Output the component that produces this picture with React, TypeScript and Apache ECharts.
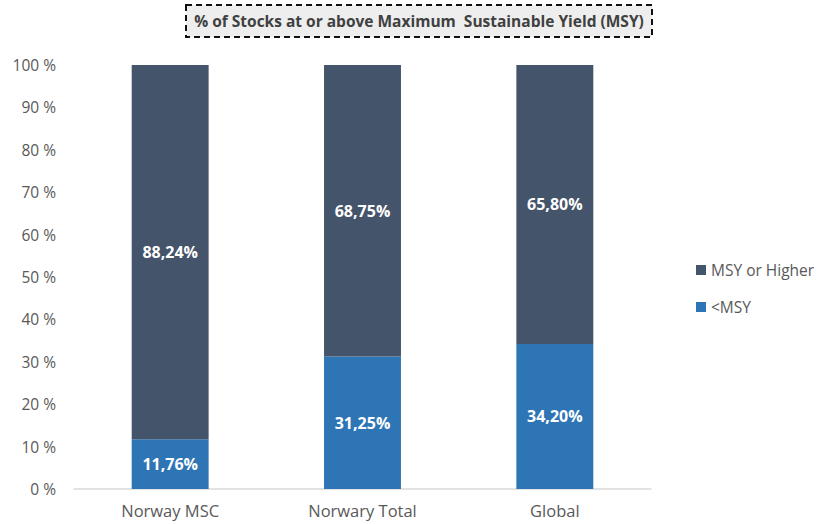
import React, { useEffect, useRef } from "react";
import * as echarts from "echarts";

const categories = ["Norway MSC", "Norwary Total", "Global"];
const belowMSY = [11.76, 31.25, 34.2];
const msyOrHigher = [88.24, 68.75, 65.8];
const titleText = "% of Stocks at or above Maximum  Sustainable Yield (MSY)";

const fmt = (v: number) => v.toFixed(2).replace(".", ",") + "%";
const FONT = "'Open Sans', 'Liberation Sans', sans-serif";

export default function App() {
  const ref = useRef<HTMLDivElement>(null);
  useEffect(() => {
    if (!ref.current) return;
    const chart = echarts.init(ref.current, null, { renderer: "svg" });
    chart.setOption({
      animation: false,
      textStyle: { fontFamily: FONT },
      grid: { left: 74, right: 166, top: 65, bottom: 35, containLabel: false },
      graphic: [
        {
          type: "rect",
          shape: { x: 186, y: 5, width: 466, height: 32 },
          style: { fill: "#eeeeee", stroke: "#111111", lineWidth: 2, lineDash: [6, 4] },
        },
        {
          type: "text",
          x: 419,
          y: 21,
          style: {
            text: titleText,
            fill: "#404040",
            font: `bold 15.5px ${FONT}`,
            textAlign: "center",
            textVerticalAlign: "middle",
          },
        },
      ],
      legend: {
        data: ["MSY or Higher", "<MSY"],
        orient: "vertical",
        left: 691,
        top: 257,
        itemWidth: 10,
        itemHeight: 10,
        itemGap: 21,
        icon: "rect",
        textStyle: { color: "#595959", fontSize: 15.5, fontFamily: FONT },
      },
      xAxis: {
        type: "category",
        data: categories,
        axisLine: { lineStyle: { color: "#d9d9d9", width: 1.5 } },
        axisTick: { show: false },
        axisLabel: { color: "#595959", fontSize: 16.5, margin: 13, fontFamily: FONT },
      },
      yAxis: {
        type: "value",
        min: 0,
        max: 100,
        interval: 10,
        splitLine: { show: false },
        axisLine: { show: false },
        axisTick: { show: false },
        axisLabel: {
          color: "#595959",
          fontSize: 15.5,
          margin: 18,
          fontFamily: FONT,
          formatter: (v: number) => `${v} %`,
        },
      },
      series: [
        {
          name: "<MSY",
          type: "bar",
          stack: "total",
          data: belowMSY,
          barWidth: "40%",
          itemStyle: { color: "#2e75b6" },
          label: {
            show: true,
            color: "#ffffff",
            fontWeight: "bold",
            fontSize: 16,
            fontFamily: FONT,
            formatter: (p: any) => fmt(p.value),
          },
        },
        {
          name: "MSY or Higher",
          type: "bar",
          stack: "total",
          data: msyOrHigher,
          barWidth: "40%",
          itemStyle: { color: "#44546a" },
          label: {
            show: true,
            color: "#ffffff",
            fontWeight: "bold",
            fontSize: 16,
            fontFamily: FONT,
            formatter: (p: any) => fmt(p.value),
          },
        },
      ],
    });
    return () => chart.dispose();
  }, []);
  return (
    <div
      ref={ref}
      style={{ position: "fixed", left: 0, top: 0, width: 817, height: 524, background: "#ffffff" }}
    />
  );
}
